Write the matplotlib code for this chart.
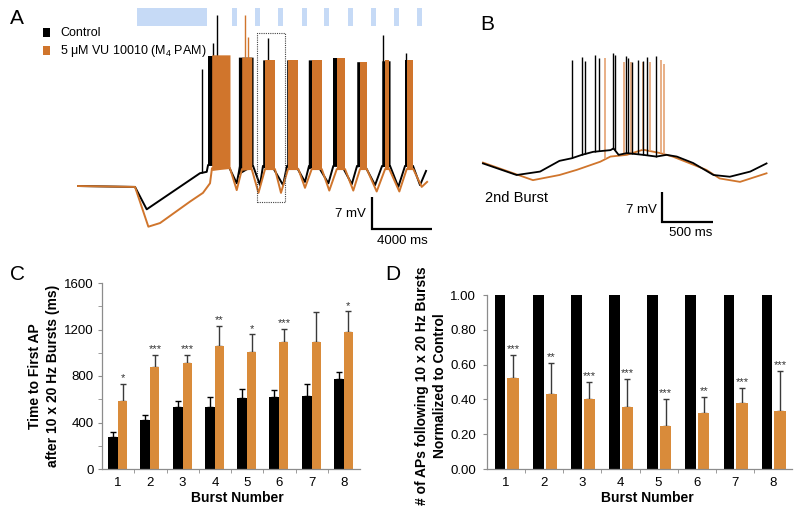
import numpy as np
import matplotlib
matplotlib.use('Agg')
import matplotlib.pyplot as plt
from matplotlib.patches import Rectangle
from matplotlib.transforms import blended_transform_factory

plt.rcParams['font.family'] = ['Liberation Sans', 'DejaVu Sans']
plt.rcParams['mathtext.fontset'] = 'custom'
plt.rcParams['mathtext.rm'] = 'Liberation Sans'

BLACK = '#000000'
ORANGE = '#D0752C'
ORANGE_LIGHT = '#E4A272'
ORANGE_BAR = '#D98B3A'
STIM_BLUE = '#C6DAF6'
SPINE = '#8C8C8C'

# ---------------- panel A: full recording (time in s, Vm in mV) ----------------
ctrl_base_t = [0.00, 3.80, 4.58, 8.13, 8.58, 8.67, 10.00, 10.58, 10.80, 11.67, 12.13,
               12.33, 12.93, 13.67, 13.93, 14.53, 15.13, 15.40, 16.00, 16.69, 17.02,
               17.60, 18.25, 18.60, 19.13, 19.80, 20.27, 20.80, 21.35, 21.80, 22.33,
               22.80, 23.20]
ctrl_base_v = [-60.0, -60.2, -65.1, -57.2, -56.9, -55.4, -55.4, -59.4, -55.6, -55.6, -59.8,
               -55.6, -55.6, -59.8, -55.6, -55.6, -59.1, -55.6, -55.6, -59.4, -55.6,
               -55.6, -59.6, -55.6, -55.6, -59.8, -55.6, -55.6, -60.2, -55.6, -55.6,
               -59.8, -56.7]
ctrl_burst_on = [8.67, 10.69, 12.31, 13.91, 15.35, 17.02, 18.58, 20.25, 21.80]
ctrl_burst_off = [10.00, 11.67, 12.93, 14.53, 16.00, 17.60, 19.13, 20.80, 22.33]
ctrl_burst_top = [-31.5, -31.8, -32.4, -32.4, -32.4, -32.0, -32.8, -32.6, -32.4]
ctrl_spike_t = [8.25, 9.02, 9.25, 12.65, 20.35, 21.87]
ctrl_spike_v = [-34.4, -28.7, -22.6, -27.7, -27.0, -31.0]

pam_base_t = [0.00, 3.80, 4.69, 5.47, 7.47, 8.33, 8.80, 8.93, 10.13, 10.58, 10.93, 11.58,
              12.03, 12.47, 13.13, 13.53, 14.00, 14.69, 15.13, 15.58, 16.25, 16.75,
              17.25, 17.80, 18.35, 18.80, 19.25, 19.91, 20.47, 20.75, 21.42, 21.91,
              22.35, 22.91, 23.27]
pam_base_v = [-60.0, -60.2, -68.9, -68.1, -63.4, -61.5, -59.4, -56.1, -56.1, -60.9, -56.3, -56.3,
              -61.5, -56.3, -56.3, -61.5, -56.3, -56.3, -60.4, -56.3, -56.3, -61.0,
              -56.3, -56.3, -61.0, -56.3, -56.3, -61.2, -56.3, -56.3, -61.2, -56.3,
              -56.3, -60.2, -59.1]
pam_burst_on = [8.91, 10.91, 12.47, 14.00, 15.58, 17.25, 18.80, 20.47, 21.91]
pam_burst_off = [10.13, 11.58, 13.13, 14.69, 16.25, 17.80, 19.25, 20.75, 22.35]
pam_burst_top = [-31.3, -31.8, -32.4, -32.4, -32.4, -32.0, -32.9, -32.4, -32.4]
pam_spike_t = [11.13, 11.33]
pam_spike_v = [-22.6, -27.5]

stim_on = [3.93, 10.27, 11.80, 13.33, 14.93, 16.40, 18.00, 19.53, 21.07, 22.60]
stim_dur = [4.67, 0.33, 0.33, 0.33, 0.33, 0.33, 0.33, 0.33, 0.33, 0.33]

# ---------------- panel B: 2nd burst (time in s, Vm in mV) ----------------
b_ctrl_t = [0.00, 0.33, 0.56, 0.75, 0.87, 0.97, 1.08, 1.25, 1.28, 1.33, 1.41, 1.57,
            1.70, 1.80, 1.90, 2.06, 2.26, 2.42, 2.62, 2.78]
b_ctrl_v = [-60.1, -62.8, -62.0, -59.5, -58.9, -58.1, -57.4, -57.0, -56.6, -58.1, -57.7, -58.1,
            -58.5, -58.1, -58.5, -60.0, -62.8, -63.2, -62.0, -60.1]
b_ctrl_spike_t = [0.87, 0.97, 1.00, 1.10, 1.14, 1.27, 1.29, 1.40, 1.42, 1.46, 1.52, 1.57, 1.61, 1.70]
b_ctrl_spike_v = [-36.0, -35.4, -36.2, -34.8, -35.5, -34.3, -34.8, -35.1, -35.6, -36.4, -36.0,
                  -36.2, -35.4, -35.1]
b_pam_t = [0.00, 0.49, 0.75, 0.92, 1.15, 1.25, 1.41, 1.57, 1.74, 1.86, 2.19, 2.32, 2.52, 2.78]
b_pam_v = [-59.9, -64.0, -62.8, -61.6, -59.7, -58.5, -58.1, -56.9, -57.7, -58.5, -61.6, -63.6,
           -64.4, -62.4]
b_pam_spike_t = [1.20, 1.38, 1.45, 1.57, 1.64, 1.75, 1.77]
b_pam_spike_v = [-35.6, -36.4, -36.4, -36.4, -36.4, -36.0, -36.9]

# ---------------- panels C and D ----------------
burst_number = ['1', '2', '3', '4', '5', '6', '7', '8']
first_ap_ctrl = [279, 422, 537, 537, 612, 618, 629, 770]
first_ap_ctrl_sem = [40, 46, 52, 81, 72, 60, 101, 66]
first_ap_pam = [589, 879, 914, 1060, 1003, 1095, 1095, 1175]
first_ap_pam_sem = [141, 101, 66, 170, 155, 109, 256, 181]
first_ap_stars = ['*', '***', '***', '**', '*', '***', '', '*']

n_ap_ctrl = [1.0, 1.0, 1.0, 1.0, 1.0, 1.0, 1.0, 1.0]
n_ap_pam = [0.522, 0.432, 0.402, 0.359, 0.249, 0.321, 0.379, 0.335]
n_ap_pam_sem = [0.132, 0.176, 0.097, 0.157, 0.154, 0.092, 0.086, 0.231]
n_ap_stars = ['***', '**', '***', '***', '***', '**', '***', '***']

W, H = 800, 514
fig = plt.figure(figsize=(W / 100, H / 100), dpi=100)


def add_ax(x0, y0, x1, y1):
    return fig.add_axes([x0 / W, 1 - y1 / H, (x1 - x0) / W, (y1 - y0) / H])


def ftext(x, y, s, **kw):
    return fig.text(x / W, 1 - y / H, s, **kw)


def draw_trace(ax, bt, bv, spk_t, spk_v, color, lw, z, on=(), off=(), top=(), spk_color=None,
               spk_lw=None):
    ax.plot(bt, bv, color=color, lw=lw, zorder=z, solid_joinstyle='round')
    for a, b, c in zip(on, off, top):
        lo = np.interp([a, b], bt, bv)
        ax.fill_between([a, b], lo, [c, c], color=color, lw=0, zorder=z)
    base = np.interp(spk_t, bt, bv)
    ax.vlines(spk_t, base, spk_v, color=spk_color or color, lw=spk_lw or lw, zorder=z)


def scale_bar(ax, x0, y0, dx, dy):
    ax.plot([x0, x0, x0 + dx], [y0 + dy, y0, y0], color='k', lw=1.6,
            solid_capstyle='butt', solid_joinstyle='miter')


# ---- A
axA = add_ax(60, 0, 440, 250)
axA.set_xlim(-1.2, 24.13)
axA.set_ylim(-74.0, -19.3)
axA.axis('off')
tr = blended_transform_factory(axA.transData, axA.transAxes)
for t0, d in zip(stim_on, stim_dur):
    axA.add_patch(Rectangle((t0, 0.896), d, 0.072, transform=tr,
                            facecolor=STIM_BLUE, edgecolor='none'))
draw_trace(axA, ctrl_base_t, ctrl_base_v, ctrl_spike_t, ctrl_spike_v, BLACK, 1.4, 2,
           ctrl_burst_on, ctrl_burst_off, ctrl_burst_top, spk_lw=1.0)
draw_trace(axA, pam_base_t, pam_base_v, pam_spike_t, pam_spike_v, ORANGE, 1.4, 3,
           pam_burst_on, pam_burst_off, pam_burst_top, spk_lw=1.0)
axA.add_patch(Rectangle((11.93, -63.5), 1.87, 37.0, fill=False, ls=(0, (1, 1)),
                        lw=0.8, edgecolor='#444444', zorder=4))
scale_bar(axA, 19.6, -69.4, 4.0, 7.0)
ftext(366, 214, '7 mV', ha='right', va='center', fontsize=9.5)
ftext(402, 241, '4000 ms', ha='center', va='center', fontsize=9.5)

# legend
fig.patches.append(Rectangle((43 / W, 1 - 37 / H), 7 / W, 9 / H, transform=fig.transFigure,
                             facecolor=BLACK, edgecolor='none'))
fig.patches.append(Rectangle((43 / W, 1 - 55 / H), 7 / W, 9 / H, transform=fig.transFigure,
                             facecolor=ORANGE, edgecolor='none'))
ftext(60, 33, 'Control', ha='left', va='center', fontsize=9)
ftext(60, 51, r'5 μM VU 10010 (M$_4$ PAM)', ha='left', va='center', fontsize=9)

# ---- B
axB = add_ax(470, 40, 780, 250)
axB.set_xlim(-0.127, 2.912)
axB.set_ylim(-80.28, -31.33)
axB.axis('off')
draw_trace(axB, b_pam_t, b_pam_v, b_pam_spike_t, b_pam_spike_v, ORANGE, 1.3, 2,
           spk_color=ORANGE_LIGHT, spk_lw=1.2)
draw_trace(axB, b_ctrl_t, b_ctrl_v, b_ctrl_spike_t, b_ctrl_spike_v, BLACK, 1.3, 3, spk_lw=1.0)
scale_bar(axB, 1.755, -73.75, 0.5, 7.0)
ftext(485, 198, '2nd Burst', ha='left', va='center', fontsize=10.5)
ftext(657, 210, '7 mV', ha='right', va='center', fontsize=9.5)
ftext(691, 233, '500 ms', ha='center', va='center', fontsize=9.5)


# ---- C and D
def style_bar_axes(ax, ymax, major, minor, fmt):
    ax.set_xlim(0, 8)
    ax.set_ylim(0, ymax)
    for s in ('top', 'right'):
        ax.spines[s].set_visible(False)
    for s in ('left', 'bottom'):
        ax.spines[s].set_color(SPINE)
        ax.spines[s].set_linewidth(0.9)
    ax.set_yticks(major)
    ax.set_yticklabels([fmt.format(v) for v in major])
    ax.set_yticks(minor, minor=True)
    ax.set_xticks(np.arange(8) + 0.5)
    ax.set_xticklabels(burst_number)
    ax.set_xticks(np.arange(1, 8), minor=True)
    ax.tick_params(axis='x', which='major', length=0, pad=6, labelsize=9.5)
    ax.tick_params(axis='x', which='minor', length=3, color=SPINE, direction='out')
    ax.tick_params(axis='y', which='both', length=3, color=SPINE, direction='out',
                   labelsize=9.5, pad=3)
    ax.tick_params(axis='y', which='minor', labelleft=False)


x = np.arange(8) + 0.5
axC = add_ax(102, 283, 360, 469)
axC.bar(x - 0.155, first_ap_ctrl, width=0.31, color=BLACK, zorder=2)
axC.bar(x + 0.14, first_ap_pam, width=0.28, color=ORANGE_BAR, zorder=2)
axC.errorbar(x - 0.155, first_ap_ctrl, yerr=[np.zeros(8), first_ap_ctrl_sem], fmt='none',
             ecolor=BLACK, elinewidth=1, capsize=2, capthick=1, zorder=1)
axC.errorbar(x + 0.14, first_ap_pam, yerr=[np.zeros(8), first_ap_pam_sem], fmt='none',
             ecolor='#3a3a3a', elinewidth=1, capsize=2, capthick=1, zorder=1)
for xi, v, e, s in zip(x + 0.14, first_ap_pam, first_ap_pam_sem, first_ap_stars):
    axC.annotate(s, (xi, v + e), xytext=(0, 2), textcoords='offset points',
                 ha='center', va='baseline', fontsize=8, color='#333333')
style_bar_axes(axC, 1600, [0, 400, 800, 1200, 1600], np.arange(0, 1601, 200), '{:.0f}')

axD = add_ax(487, 295, 792, 469)
axD.bar(x - 0.155, n_ap_ctrl, width=0.28, color=BLACK, zorder=2)
axD.bar(x + 0.185, n_ap_pam, width=0.30, color=ORANGE_BAR, zorder=2)
axD.errorbar(x + 0.185, n_ap_pam, yerr=[np.zeros(8), n_ap_pam_sem], fmt='none',
             ecolor='#3a3a3a', elinewidth=1, capsize=2, capthick=1, zorder=1)
for xi, v, e, s in zip(x + 0.185, n_ap_pam, n_ap_pam_sem, n_ap_stars):
    axD.annotate(s, (xi, v + e), xytext=(0, 2), textcoords='offset points',
                 ha='center', va='baseline', fontsize=8, color='#333333')
style_bar_axes(axD, 1.0, np.arange(0, 1.01, 0.2), [], '{:.2f}')
axD.tick_params(axis='y', pad=5)

ftext(44, 376, 'Time to First AP\nafter 10 x 20 Hz Bursts (ms)', rotation=90,
      ha='center', va='center', fontsize=10, fontweight='bold', linespacing=1.3)
ftext(237, 498, 'Burst Number', ha='center', va='center', fontsize=10, fontweight='bold')
ftext(431, 386, '# of APs following 10 x 20 Hz Bursts\nNormalized to Control', rotation=90,
      ha='center', va='center', fontsize=10, fontweight='bold', linespacing=1.3)
ftext(647, 498, 'Burst Number', ha='center', va='center', fontsize=10, fontweight='bold')

# panel letters
for lab, px, py in [('A', 10, 18), ('B', 480, 25), ('C', 10, 275), ('D', 385, 275)]:
    ftext(px, py, lab, ha='left', va='center', fontsize=15)

fig.savefig('out.png', dpi=100)
